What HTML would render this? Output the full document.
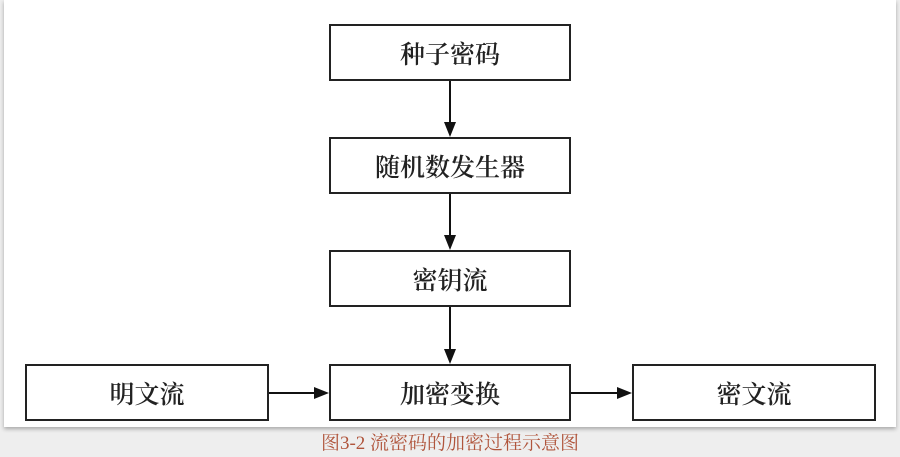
<!DOCTYPE html>
<html><head><meta charset="utf-8"><style>
body{margin:0;width:900px;height:457px;background:#eeeeee;position:relative;overflow:hidden;font-family:"Liberation Serif","Noto Serif CJK SC",serif}
.panel{position:absolute;left:4px;top:0;width:892px;height:427px;background:#fff;box-shadow:0 2px 4px rgba(0,0,0,.3)}
.b{position:absolute;box-sizing:border-box;border:2px solid #222;background:#fff;display:flex;align-items:center;justify-content:center;font-size:25px;color:#222;font-weight:600}
.cap{position:absolute;left:0;width:900px;top:428px;text-align:center;font-size:19px;color:#b0553c}
</style></head><body>
<div class="panel"></div>
<div class="b" style="left:329px;top:24px;width:242px;height:57px">种子密码</div>
<div class="b" style="left:329px;top:137px;width:242px;height:57px">随机数发生器</div>
<div class="b" style="left:329px;top:250px;width:242px;height:57px">密钥流</div>
<div class="b" style="left:25px;top:364px;width:244px;height:57px">明文流</div>
<div class="b" style="left:329px;top:364px;width:242px;height:57px">加密变换</div>
<div class="b" style="left:632px;top:364px;width:244px;height:57px">密文流</div>
<svg width="900" height="457" style="position:absolute;left:0;top:0">
<g stroke="#111" stroke-width="2" fill="#111">
<line x1="450" y1="81" x2="450" y2="124"/><polygon points="444,122 456,122 450,137" stroke="none"/>
<line x1="450" y1="194" x2="450" y2="237"/><polygon points="444,235 456,235 450,250" stroke="none"/>
<line x1="450" y1="307" x2="450" y2="351"/><polygon points="444,349 456,349 450,364" stroke="none"/>
<line x1="269" y1="393" x2="316" y2="393"/><polygon points="314,387 314,399 329,393" stroke="none"/>
<line x1="571" y1="393" x2="619" y2="393"/><polygon points="617,387 617,399 632,393" stroke="none"/>
</g></svg>
<div class="cap">图3-2 流密码的加密过程示意图</div>
</body></html>
